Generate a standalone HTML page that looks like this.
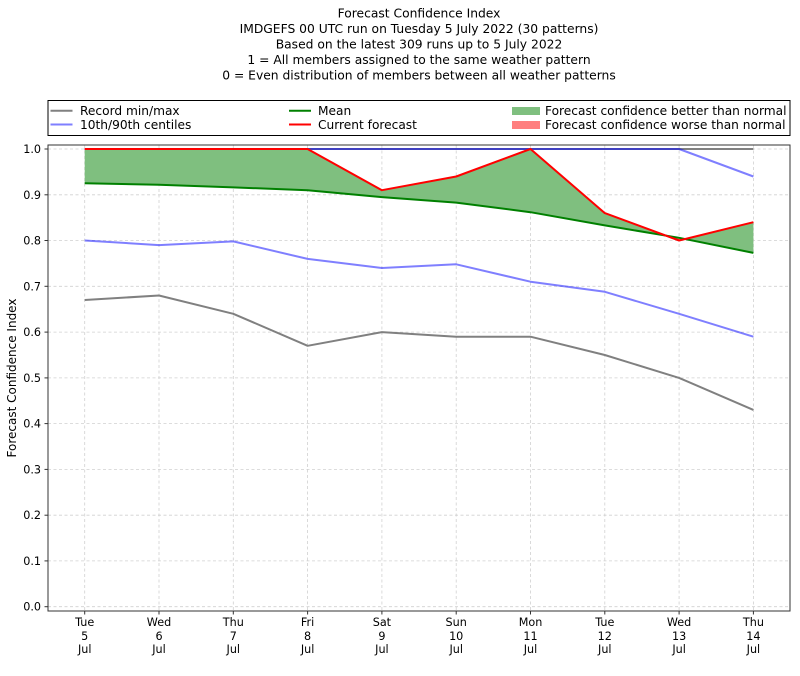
<!DOCTYPE html>
<html><head><meta charset="utf-8"><style>
html,body{margin:0;padding:0;background:#fff;}
svg{display:block;font-family:"DejaVu Sans","Liberation Sans",sans-serif;}
</style></head><body>
<svg width="800" height="676" viewBox="0 0 800 676" xmlns="http://www.w3.org/2000/svg">
<rect width="800" height="676" fill="#fff"/>
<!-- Title -->
<g font-size="12.3" text-anchor="middle" fill="#000">
<text x="419" y="17.5">Forecast Confidence Index</text>
<text x="419" y="33">IMDGEFS 00 UTC run on Tuesday 5 July 2022 (30 patterns)</text>
<text x="419" y="48.5">Based on the latest 309 runs up to 5 July 2022</text>
<text x="419" y="64">1 = All members assigned to the same weather pattern</text>
<text x="419" y="79.5">0 = Even distribution of members between all weather patterns</text>
</g>
<!-- Legend -->
<rect x="48" y="100.5" width="742" height="35" fill="#fff" stroke="#000" stroke-width="1"/>
<g stroke-width="2">
<line x1="50.5" y1="110.8" x2="72.5" y2="110.8" stroke="#808080"/>
<line x1="50.5" y1="124.5" x2="72.5" y2="124.5" stroke="#7f7fff"/>
<line x1="289" y1="110.8" x2="311" y2="110.8" stroke="#008000"/>
<line x1="289" y1="124.5" x2="311" y2="124.5" stroke="#ff0000"/>
</g>
<rect x="512" y="107" width="28" height="8" fill="#7fbf7f"/>
<rect x="512" y="121" width="28" height="8" fill="#ff7f7f"/>
<g font-size="12.2" fill="#000">
<text x="80" y="115.2">Record min/max</text>
<text x="80" y="129">10th/90th centiles</text>
<text x="318" y="115.2">Mean</text>
<text x="318" y="129">Current forecast</text>
<text x="545" y="115.2">Forecast confidence better than normal</text>
<text x="545" y="129">Forecast confidence worse than normal</text>
</g>
<!-- Grid -->
<g stroke="#d0d0d0" stroke-width="0.8" stroke-dasharray="3,2.5">
<line x1="48" x2="790" y1="606.7" y2="606.7"/>
<line x1="48" x2="790" y1="560.9" y2="560.9"/>
<line x1="48" x2="790" y1="515.2" y2="515.2"/>
<line x1="48" x2="790" y1="469.4" y2="469.4"/>
<line x1="48" x2="790" y1="423.6" y2="423.6"/>
<line x1="48" x2="790" y1="377.9" y2="377.9"/>
<line x1="48" x2="790" y1="332.1" y2="332.1"/>
<line x1="48" x2="790" y1="286.3" y2="286.3"/>
<line x1="48" x2="790" y1="240.5" y2="240.5"/>
<line x1="48" x2="790" y1="194.8" y2="194.8"/>
<line x1="48" x2="790" y1="149" y2="149"/>
<line x1="84.7" x2="84.7" y1="145" y2="611"/>
<line x1="159" x2="159" y1="145" y2="611"/>
<line x1="233.3" x2="233.3" y1="145" y2="611"/>
<line x1="307.6" x2="307.6" y1="145" y2="611"/>
<line x1="381.9" x2="381.9" y1="145" y2="611"/>
<line x1="456.2" x2="456.2" y1="145" y2="611"/>
<line x1="530.5" x2="530.5" y1="145" y2="611"/>
<line x1="604.8" x2="604.8" y1="145" y2="611"/>
<line x1="679.1" x2="679.1" y1="145" y2="611"/>
<line x1="753.4" x2="753.4" y1="145" y2="611"/>
</g>
<!-- Fills -->
<polygon fill="#7fbf7f" points="84.7,149 159,149 233.3,149 307.6,149 381.9,190.2 456.2,176.5 530.5,149 604.8,213.1 665.7,235.6 604.8,225.4 530.5,212.2 456.2,202.6 381.9,197.1 307.6,190.2 233.3,187.4 159,184.7 84.7,183.3"/>
<polygon fill="#ff7f7f" points="665.7,235.6 679.1,240.5 685.1,239.0 679.1,237.8"/>
<polygon fill="#7fbf7f" points="685.1,239.0 753.4,222.2 753.4,252.9"/>
<!-- Record min/max -->
<g fill="none" stroke="#808080" stroke-width="2" stroke-linejoin="round">
<polyline points="84.7,149 159,149 233.3,149 307.6,149 381.9,149 456.2,149 530.5,149 604.8,149 679.1,149 753.4,149"/>
<polyline points="84.7,300 159,295.5 233.3,313.8 307.6,345.8 381.9,332.1 456.2,336.7 530.5,336.7 604.8,355 679.1,377.9 753.4,409.9"/>
</g>
<!-- Centiles -->
<g fill="none" stroke="#0000ff" stroke-opacity="0.5" stroke-width="2" stroke-linejoin="round">
<polyline points="84.7,149 159,149 233.3,149 307.6,149 381.9,149 456.2,149 530.5,149 604.8,149 679.1,149 753.4,176.5"/>
<polyline points="84.7,240.5 159,245.1 233.3,241.4 307.6,258.9 381.9,268 456.2,264.3 530.5,281.7 604.8,291.8 679.1,313.8 753.4,336.7"/>
</g>
<!-- Mean -->
<polyline fill="none" stroke="#008000" stroke-width="2" stroke-linejoin="round" points="84.7,183.3 159,184.7 233.3,187.4 307.6,190.2 381.9,197.1 456.2,202.6 530.5,212.2 604.8,225.4 679.1,237.8 753.4,252.9"/>
<!-- Current -->
<polyline fill="none" stroke="#ff0000" stroke-width="2" stroke-linejoin="round" points="84.7,149 159,149 233.3,149 307.6,149 381.9,190.2 456.2,176.5 530.5,149 604.8,213.1 679.1,240.5 753.4,222.2"/>
<!-- Axes frame -->
<rect x="48" y="145" width="742" height="466" fill="none" stroke="#333" stroke-width="1"/>
<!-- Ticks -->
<g stroke="#333" stroke-width="1">
<line x1="44.5" x2="48" y1="606.7" y2="606.7"/>
<line x1="44.5" x2="48" y1="560.9" y2="560.9"/>
<line x1="44.5" x2="48" y1="515.2" y2="515.2"/>
<line x1="44.5" x2="48" y1="469.4" y2="469.4"/>
<line x1="44.5" x2="48" y1="423.6" y2="423.6"/>
<line x1="44.5" x2="48" y1="377.9" y2="377.9"/>
<line x1="44.5" x2="48" y1="332.1" y2="332.1"/>
<line x1="44.5" x2="48" y1="286.3" y2="286.3"/>
<line x1="44.5" x2="48" y1="240.5" y2="240.5"/>
<line x1="44.5" x2="48" y1="194.8" y2="194.8"/>
<line x1="44.5" x2="48" y1="149" y2="149"/>
<line x1="84.7" x2="84.7" y1="611" y2="614.5"/>
<line x1="159" x2="159" y1="611" y2="614.5"/>
<line x1="233.3" x2="233.3" y1="611" y2="614.5"/>
<line x1="307.6" x2="307.6" y1="611" y2="614.5"/>
<line x1="381.9" x2="381.9" y1="611" y2="614.5"/>
<line x1="456.2" x2="456.2" y1="611" y2="614.5"/>
<line x1="530.5" x2="530.5" y1="611" y2="614.5"/>
<line x1="604.8" x2="604.8" y1="611" y2="614.5"/>
<line x1="679.1" x2="679.1" y1="611" y2="614.5"/>
<line x1="753.4" x2="753.4" y1="611" y2="614.5"/>
</g>
<g font-size="11.2" text-anchor="end" fill="#000">
<text x="41" y="610.7">0.0</text>
<text x="41" y="564.9">0.1</text>
<text x="41" y="519.2">0.2</text>
<text x="41" y="473.4">0.3</text>
<text x="41" y="427.6">0.4</text>
<text x="41" y="381.9">0.5</text>
<text x="41" y="336.1">0.6</text>
<text x="41" y="290.3">0.7</text>
<text x="41" y="244.5">0.8</text>
<text x="41" y="198.8">0.9</text>
<text x="41" y="153">1.0</text>
</g>
<g font-size="11.2" text-anchor="middle" fill="#000">
<text x="84.7" y="626">Tue</text><text x="84.7" y="640">5</text><text x="84.7" y="653">Jul</text>
<text x="159" y="626">Wed</text><text x="159" y="640">6</text><text x="159" y="653">Jul</text>
<text x="233.3" y="626">Thu</text><text x="233.3" y="640">7</text><text x="233.3" y="653">Jul</text>
<text x="307.6" y="626">Fri</text><text x="307.6" y="640">8</text><text x="307.6" y="653">Jul</text>
<text x="381.9" y="626">Sat</text><text x="381.9" y="640">9</text><text x="381.9" y="653">Jul</text>
<text x="456.2" y="626">Sun</text><text x="456.2" y="640">10</text><text x="456.2" y="653">Jul</text>
<text x="530.5" y="626">Mon</text><text x="530.5" y="640">11</text><text x="530.5" y="653">Jul</text>
<text x="604.8" y="626">Tue</text><text x="604.8" y="640">12</text><text x="604.8" y="653">Jul</text>
<text x="679.1" y="626">Wed</text><text x="679.1" y="640">13</text><text x="679.1" y="653">Jul</text>
<text x="753.4" y="626">Thu</text><text x="753.4" y="640">14</text><text x="753.4" y="653">Jul</text>
</g>
<text x="0" y="0" font-size="12" text-anchor="middle" fill="#000" transform="translate(16,378) rotate(-90)">Forecast Confidence Index</text>
</svg>
</body></html>
